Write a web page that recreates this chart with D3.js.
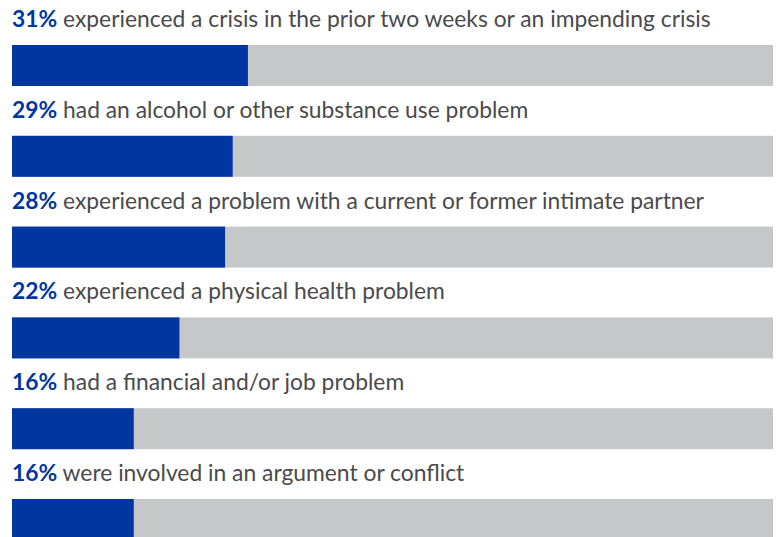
<!DOCTYPE html>
<html>
<head>
<meta charset="utf-8">
<script src="https://cdn.jsdelivr.net/npm/d3@7"></script>
<style>
  body { margin: 0; background: #fff; }
  svg { display: block; }
</style>
</head>
<body>
<svg id="chart" width="776" height="537"></svg>
<script>
// --- DATA ---
const percents = [31, 29, 28, 22, 16, 16];
const labels = [
  "experienced a crisis in the prior two weeks or an impending crisis",
  "had an alcohol or other substance use problem",
  "experienced a problem with a current or former intimate partner",
  "experienced a physical health problem",
  "had a financial and/or job problem",
  "were involved in an argument or conflict"
];

// --- SETUP ---
const left = 12, right = 773;
const rowStep = 90.8, barTop = 45, barH = 41;
const blue = "#0036a0", track = "#c6c7c9", textGrey = "#4a4a4c";

const svg = d3.select("#chart");

const x = d3.scaleLinear().domain([0, 100]).range([left, right]);
const y = d3.scaleBand().domain(d3.range(percents.length)).range([0, rowStep * percents.length]);

const rows = svg.selectAll("g.row")
  .data(percents.map((p, i) => ({ p, label: labels[i], i })))
  .join("g")
  .attr("class", "row")
  .attr("transform", d => `translate(0,${y(d.i)})`);

// grey track (100%)
rows.append("rect")
  .attr("x", x(0)).attr("y", barTop)
  .attr("width", x(100) - x(0)).attr("height", barH)
  .attr("fill", track);

// blue value bar
rows.append("rect")
  .attr("x", x(0)).attr("y", barTop)
  .attr("width", d => x(d.p) - x(0)).attr("height", barH)
  .attr("fill", blue);

const txt = rows.append("text")
  .attr("x", left).attr("y", 27)
  .style("font-family", "Lato, 'Open Sans', sans-serif")
  .style("font-size", "22px");

txt.append("tspan")
  .attr("fill", blue).attr("font-weight", "bold")
  .text(d => d.p + "%");
txt.append("tspan")
  .attr("fill", textGrey)
  .text(d => " " + d.label);

// fit font size so the first line ends where the reference does
const w0 = txt.node().getComputedTextLength();
const fs = 22 * (711 - left) / w0;
txt.style("font-size", fs + "px");
</script>
</body>
</html>
